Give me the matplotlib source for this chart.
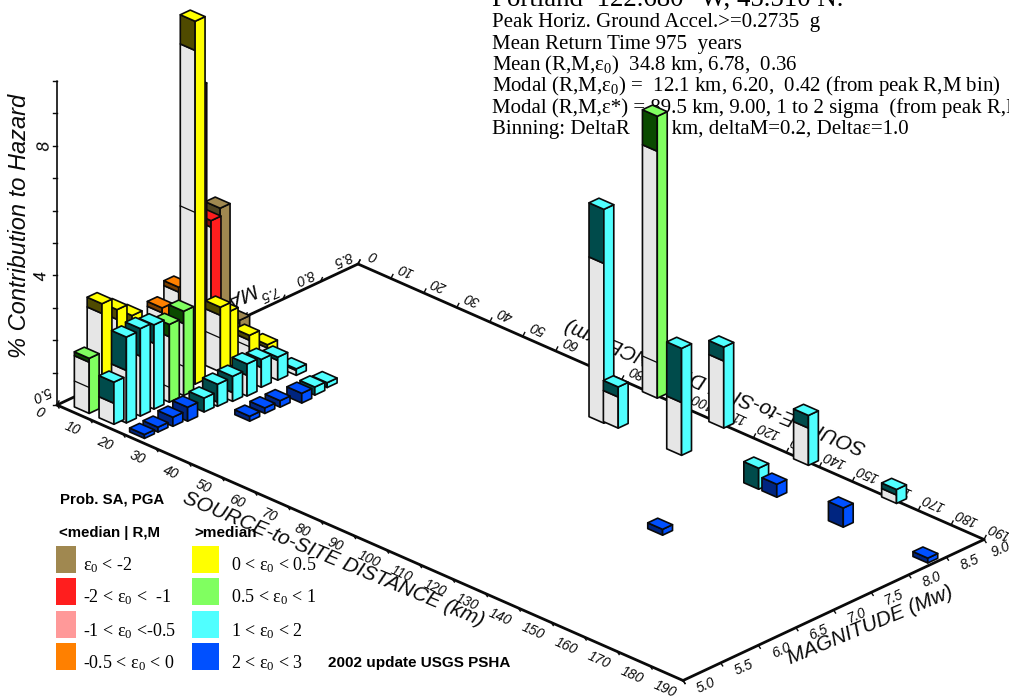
import matplotlib
matplotlib.use("Agg")
import matplotlib.pyplot as plt
from matplotlib.patches import Polygon, Rectangle

plt.rcParams['mathtext.fontset'] = 'custom'
plt.rcParams['mathtext.rm'] = 'Liberation Serif'
plt.rcParams['mathtext.it'] = 'Liberation Serif'
plt.rcParams['mathtext.default'] = 'rm'

# ---------- data ----------
bar_R = [5.6, 5.6, 5.6, 5.6, 5.6, 5.6, 5.6, 6.5, 5.6, 5.6,
         13.1, 14.6, 14.5, 14.3, 14.4, 14.4, 12.4, 12.3, 11.9, 13.8, 13.8,
         23.1, 23.3, 24.0, 24.5, 23.8, 24.0, 25.3,
         22.6, 22.6, 23.0, 23.6, 33.3, 33.1, 33.4, 35.4, 34.8, 34.2,
         89.4, 93.3, 89.4, 112.3, 109.8, 135.5, 135.7, 141.2, 161.6, 162.0, 136.0, 186.8]
bar_M = [5.15, 5.32, 5.52, 5.72, 6.12, 6.34, 6.58, 6.73, 6.89, 7.15,
         5.15, 5.25, 5.44, 5.63, 5.83, 6.02, 6.26, 6.60, 6.72, 6.92, 7.16,
         5.91, 6.08, 6.25, 6.42, 6.64, 6.85, 7.04,
         5.14, 5.32, 5.50, 5.67, 6.07, 6.28, 6.47, 6.67, 6.87, 7.06,
         8.32, 8.34, 9.03, 8.35, 9.02, 9.02, 8.35, 8.35, 8.34, 9.03, 7.06, 8.36]
bar_total = [1.7, 3.2, 2.8, 2.4, 2.2, 2.6, 8.5, 4.27, 4.44, 0.7,
             1.3, 2.65, 2.7, 2.6, 2.4, 2.6, 11.2, 2.0, 1.7, 0.85, 0.3,
             0.43, 0.68, 0.77, 0.99, 0.86, 0.71, 0.2,
             0.12, 0.15, 0.28, 0.43, 0.15, 0.17, 0.2, 0.3, 0.25, 0.15,
             6.6, 1.27, 8.7, 3.3, 2.5, 1.54, 0.65, 0.4, 0.59, 0.43, 0.18, 0.15]
bar_dark = [0.12, 0.3, 0.3, 0.3, 0.15, 0.15, 0.3, 0.2, 0.3, 0.1,
            0.65, 1.03, 0.85, 0.57, 0.38, 0.38, 0.9, 0.25, 0.2, 0.15, 0.1,
            0.43, 0.55, 0.5, 0.35, 0.25, 0.1, 0.05,
            0.12, 0.15, 0.28, 0.43, 0.15, 0.17, 0.2, 0.3, 0.25, 0.15,
            1.67, 0.31, 1.08, 1.67, 0.43, 0.39, 0.65, 0.4, 0.59, 0.17, 0.18, 0.15]
bar_split = [0.8, 0, 0, 0, 0, 0, 0, 0, 0, 0,
             0, 0, 0, 0, 0.46, 0.9, 5.3, 1.05, 0, 0.5, 0,
             0, 0, 0, 0, 0, 0, 0,
             0, 0, 0, 0, 0, 0, 0, 0, 0, 0,
             0, 0, 1.1, 0, 0, 0, 0, 0, 0, 0, 0, 0]
bar_class = [5, 4, 4, 4, 3, 3, 1, 1, 0, 0,
             6, 6, 6, 6, 5, 5, 4, 4, 4, 4, 4,
             6, 6, 6, 6, 6, 6, 6,
             7, 7, 7, 7, 7, 7, 7, 7, 6, 6,
             6, 6, 5, 6, 6, 6, 6, 7, 7, 6, 7, 7]

light = ['#A08850', '#FF1E1E', '#FF9999', '#FF8000', '#FFFF00', '#80FF60', '#50FFFF', '#0050FF']
dark = ['#4F4322', '#8A0E0E', '#805050', '#7A3F00', '#4F4A00', '#0A4A00', '#004B4B', '#002580']
GRAY = '#E6E6E6'
INK = '#0A0A0A'

r_ticks = list(range(0, 200, 10))
m_ticks = [5.0, 5.5, 6.0, 6.5, 7.0, 7.5, 8.0, 8.5, 9.0]
z_ticks = list(range(0, 11))
R_MAX, M_MIN, M_MAX = 190, 5.0, 9.0

header = ['Portland  122.680\u00b0 W, 45.510 N.',
          'Peak Horiz. Ground Accel.>=0.2735  g',
          'Mean Return Time 975  years',
          'Mean (R,M,\u03b5$_0$)  34.8 km, 6.78,  0.36',
          'Modal (R,M,\u03b5$_0$) =  12.1 km, 6.20,  0.42 (from peak R,M bin)',
          'Modal (R,M,\u03b5*) = 89.5 km, 9.00, 1 to 2 sigma  (from peak R,M,\u03b5 bin)',
          'Binning: DeltaR  10. km, deltaM=0.2, Delta\u03b5=1.0']
legend_left = ['\u03b5$_0$ < -2', '-2 < \u03b5$_0$ <  -1', '-1 < \u03b5$_0$ <-0.5', '-0.5 < \u03b5$_0$ < 0']
legend_right = ['0 < \u03b5$_0$ < 0.5', '0.5 < \u03b5$_0$ < 1', '1 < \u03b5$_0$ < 2', '2 < \u03b5$_0$ < 3']

# ---------- oblique view of the (R, M, z) box ----------
O = (57.0, 405.0)
PER_KM = (3.295, 1.45)
PER_MAG = (75.25, -35.25)
PER_Z = -32.4
HALF_R, HALF_M = 2.25, 0.066


def P(R, M, z=0.0):
    return (O[0] + R * PER_KM[0] + (M - M_MIN) * PER_MAG[0],
            O[1] + R * PER_KM[1] + (M - M_MIN) * PER_MAG[1] + z * PER_Z)


fig = plt.figure(figsize=(10.09, 6.98), dpi=100)
ax = fig.add_axes([0, 0, 1, 1])
ax.set_xlim(0, 1009)
ax.set_ylim(698, 0)
ax.axis('off')

SANS = 'Liberation Sans'
SERIF = 'Liberation Serif'


def seg(a, b, lw=2.0, z=2):
    ax.plot([a[0], b[0]], [a[1], b[1]], color=INK, lw=lw, zorder=z, solid_capstyle='round')


# floor outline
A, B, C, D = P(0, M_MIN), P(R_MAX, M_MIN), P(R_MAX, M_MAX), P(0, M_MAX)
seg(A, B); seg(B, C); seg(C, D); seg(D, A)

# z axis
seg(A, P(0, M_MIN, z_ticks[-1]), lw=1.2)
for t in z_ticks:
    x, y = P(0, M_MIN, t)
    ax.plot([x - 4, x], [y, y], color=INK, lw=1, zorder=2)
ax.text(45, P(0, M_MIN, 8)[1], '8', rotation=96, style='italic', family=SANS, fontsize=12.5, ha='center', va='center')
ax.text(42, P(0, M_MIN, 4)[1], '4', rotation=96, style='italic', family=SANS, fontsize=12.5, ha='center', va='center')
ax.text(40, 413, '0', rotation=-24, style='italic', family=SANS, fontsize=10, ha='center', va='center')
ax.text(41, 394, '5.0', rotation=204, style='italic', family=SANS, fontsize=10, ha='center', va='center')
ax.text(20, 226, '% Contribution to Hazard', rotation=90, style='italic', family=SANS,
        fontsize=17, ha='center', va='center', color=INK)

# R ticks and labels on both long edges
for r in r_ticks:
    f = P(r, M_MIN)
    b = P(r, M_MAX)
    ax.plot([f[0], f[0] + 2], [f[1], f[1] + 3], color=INK, lw=1, zorder=2)
    ax.plot([b[0], b[0] + 2], [b[1], b[1] - 4], color=INK, lw=1, zorder=2)
    if r > 0:
        ax.text(f[0] - 18, f[1] + 9, str(r), rotation=-24, style='italic', family=SANS,
                fontsize=10, ha='center', va='center', color=INK, zorder=2)
    ax.text(b[0] + 15, b[1] - 8.5, str(r), rotation=156, style='italic', family=SANS,
            fontsize=10, ha='center', va='center', color=INK, zorder=2)

# M ticks and labels
for m in m_ticks:
    f = P(R_MAX, m)
    b = P(0, m)
    ax.plot([f[0], f[0] + 2], [f[1], f[1] + 3], color=INK, lw=1, zorder=2)
    ax.plot([b[0], b[0] + 2], [b[1], b[1] - 4], color=INK, lw=1, zorder=2)
    dx, dy = (23, 5) if m < 9 else (17, 10)
    ax.text(f[0] + dx, f[1] + dy, f'{m:.1f}', rotation=24, style='italic', family=SANS,
            fontsize=10, ha='center', va='center', color=INK, zorder=2)
    if 5.0 < m < 9.0:
        ax.text(b[0] + 22, b[1] - 23, f'{m:.1f}', rotation=204, style='italic', family=SANS,
                fontsize=10, ha='center', va='center', color=INK, zorder=2)

# axis titles
title_kw = dict(style='italic', family=SANS, ha='center', va='center', color=INK, zorder=2)
ax.text(333, 559, 'SOURCE-to-SITE DISTANCE (km)', rotation=-22.5, fontsize=15, **title_kw)
ax.text(716, 386, 'SOURCE-to-SITE DISTANCE (km)', rotation=157.5, fontsize=15, **title_kw)
ax.text(870, 625, 'MAGNITUDE (Mw)', rotation=22.5, fontsize=15, **title_kw)
ax.text(175, 322, 'MAGNITUDE (Mw)', rotation=202.5, fontsize=15, **title_kw)

# header block
ax.text(492, 6, header[0], family=SERIF, fontsize=19.4, color='black', va='baseline', ha='left', zorder=2)
for line, y in zip(header[1:], [27, 49, 70, 91, 113, 134]):
    ax.text(492, y, line, family=SERIF, fontsize=15.05, color='black', va='baseline', ha='left', zorder=2)


def face(points, color, z):
    ax.add_patch(Polygon(points, closed=True, facecolor=color, edgecolor=INK, lw=1.2, joinstyle='round', zorder=z))


# bars, painted from back to front
order = sorted(range(len(bar_R)), key=lambda i: P(bar_R[i], bar_M[i])[1])
for rank, i in enumerate(order):
    z0 = 5 + rank * 0.01
    r0, r1 = bar_R[i] - HALF_R, bar_R[i] + HALF_R
    m0, m1 = bar_M[i] - HALF_M, bar_M[i] + HALF_M
    top = bar_total[i]
    low = top - bar_dark[i]
    c = bar_class[i]
    # front face: light gray lower part, dark upper part
    if low > 0:
        face([P(r0, m0, 0), P(r1, m0, 0), P(r1, m0, low), P(r0, m0, low)], GRAY, z0)
    face([P(r0, m0, low), P(r1, m0, low), P(r1, m0, top), P(r0, m0, top)], dark[c], z0)
    if bar_split[i] > 0:
        a, b = P(r0, m0, bar_split[i]), P(r1, m0, bar_split[i])
        ax.plot([a[0], b[0]], [a[1], b[1]], color=INK, lw=0.9, zorder=z0 + 0.001)
    # side face and top
    face([P(r1, m0, 0), P(r1, m1, 0), P(r1, m1, top), P(r1, m0, top)], light[c], z0 + 0.002)
    face([P(r0, m0, top), P(r1, m0, top), P(r1, m1, top), P(r0, m1, top)], light[c], z0 + 0.003)

# legend
bold = dict(family=SANS, fontweight='bold', color='black', va='center', ha='left', zorder=20)
ax.text(60, 500, 'Prob. SA, PGA', fontsize=10.8, **bold)
ax.text(59, 533, '<median | R,M', fontsize=10.8, **bold)
ax.text(194, 533, '>median', fontsize=11, **bold)
ax.text(328, 663, '2002 update USGS PSHA', fontsize=11, **bold)
tops = [546, 578, 611, 643]
centres = [565, 597, 631, 663]
for k in range(4):
    ax.add_patch(Rectangle((56, tops[k]), 20, 27, facecolor=light[k], edgecolor='none', zorder=20))
    ax.add_patch(Rectangle((192, tops[k]), 27, 27, facecolor=light[k + 4], edgecolor='none', zorder=20))
    ax.text(83, centres[k], legend_left[k], family=SERIF, fontsize=13, color='black',
            va='center', ha='left', zorder=20)
    ax.text(231, centres[k], legend_right[k], family=SERIF, fontsize=13, color='black',
            va='center', ha='left', zorder=20)

fig.savefig('out.png', dpi=100)
